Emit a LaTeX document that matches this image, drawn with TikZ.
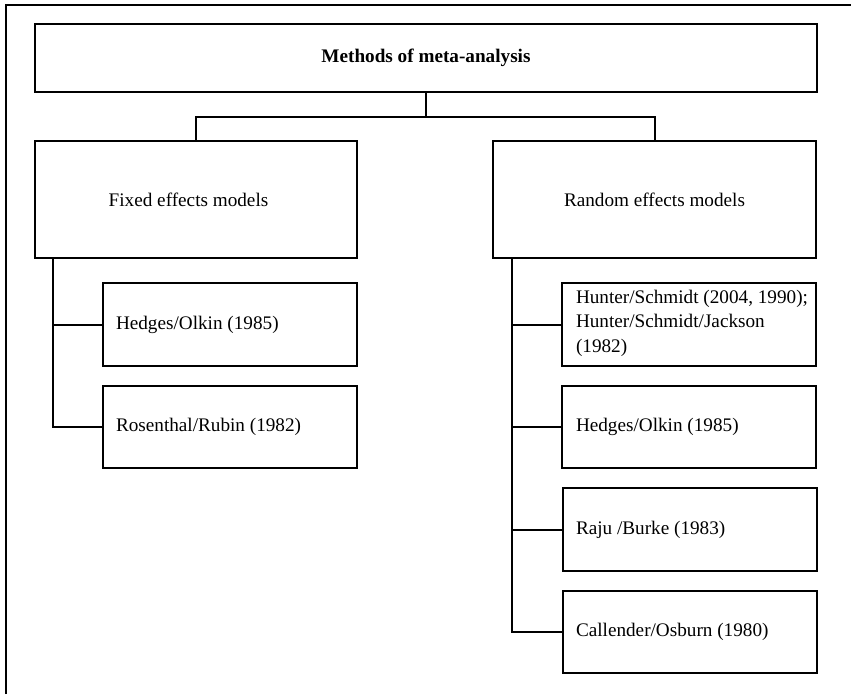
\documentclass[tikz,border=0pt]{standalone}
\usepackage{fontspec}
\setmainfont{Liberation Serif}
\begin{document}
\begin{tikzpicture}[x=1pt,y=-1pt,
  line width=2pt,
  box/.style={draw, line width=2pt, inner sep=0pt},
  leaf/.style={box, minimum width=254pt, minimum height=83pt},
  branch/.style={box, minimum height=117pt},
  lbl/.style={inner sep=0pt, font=\fontsize{19.2pt}{24.5pt}\selectfont},
  wire/.style={line width=2pt, line cap=rect}
]
\useasboundingbox (0,0) rectangle (851,694);

% outer frame (left and top edges)
\draw[line width=2pt] (6,694) -- (6,5) -- (851,5);

% root
\node[box, minimum width=782pt, minimum height=68pt] (root) at (426,58) {};
\node[lbl, font=\fontsize{19.2pt}{24.5pt}\selectfont\bfseries] (rootT) at (root.center) {Methods of meta-analysis};

% two model families
\node[branch, minimum width=322pt] (fixed) at (196,199.5) {};
\node[lbl] (fixedT) at ([xshift=-7.5pt]fixed.center) {Fixed effects models};
\node[branch, minimum width=323pt] (random) at (654.5,199.5) {};
\node[lbl] (randomT) at (random.center) {Random effects models};

% fixed effects methods
\node[leaf] (fhed) at (230,324.5) {};
\node[lbl, anchor=west] (fhedT) at ([xshift=13pt]fhed.west) {Hedges/Olkin (1985)};
\node[leaf, minimum height=82pt] (fros) at (230,427) {};
\node[lbl, anchor=west] (frosT) at ([xshift=13pt]fros.west) {Rosenthal/Rubin (1982)};

% random effects methods
\node[leaf] (rhun) at (689,324.5) {};
\node[lbl, anchor=west, align=left] (rhunT) at ([xshift=14pt,yshift=1.5pt]rhun.west)
  {Hunter/Schmidt (2004, 1990);\\Hunter/Schmidt/Jackson\\(1982)};
\node[leaf, minimum height=82pt] (rhed) at (689,427) {};
\node[lbl, anchor=west] (rhedT) at ([xshift=14pt]rhed.west) {Hedges/Olkin (1985)};
\node[leaf] (rraj) at (690,529.5) {};
\node[lbl, anchor=west] (rrajT) at ([xshift=13pt]rraj.west) {Raju /Burke (1983)};
\node[leaf, minimum height=82pt] (rcal) at (690,632) {};
\node[lbl, anchor=west] (rcalT) at ([xshift=13pt]rcal.west) {Callender/Osburn (1980)};

% connectors
\coordinate (split) at (426,117);
\draw[wire] (root.south) -- (split);
\draw[wire] (fixed.north) |- (split) -| (random.north);

\coordinate (ftrunk) at ([xshift=19pt]fixed.south west);
\draw[wire] (ftrunk) |- (fhed.west);
\draw[wire] (ftrunk) |- (fros.west);

\coordinate (rtrunk) at ([xshift=20pt]random.south west);
\draw[wire] (rtrunk) |- (rhun.west);
\draw[wire] (rtrunk) |- (rhed.west);
\draw[wire] (rtrunk) |- (rraj.west);
\draw[wire] (rtrunk) |- (rcal.west);
\end{tikzpicture}
\end{document}
